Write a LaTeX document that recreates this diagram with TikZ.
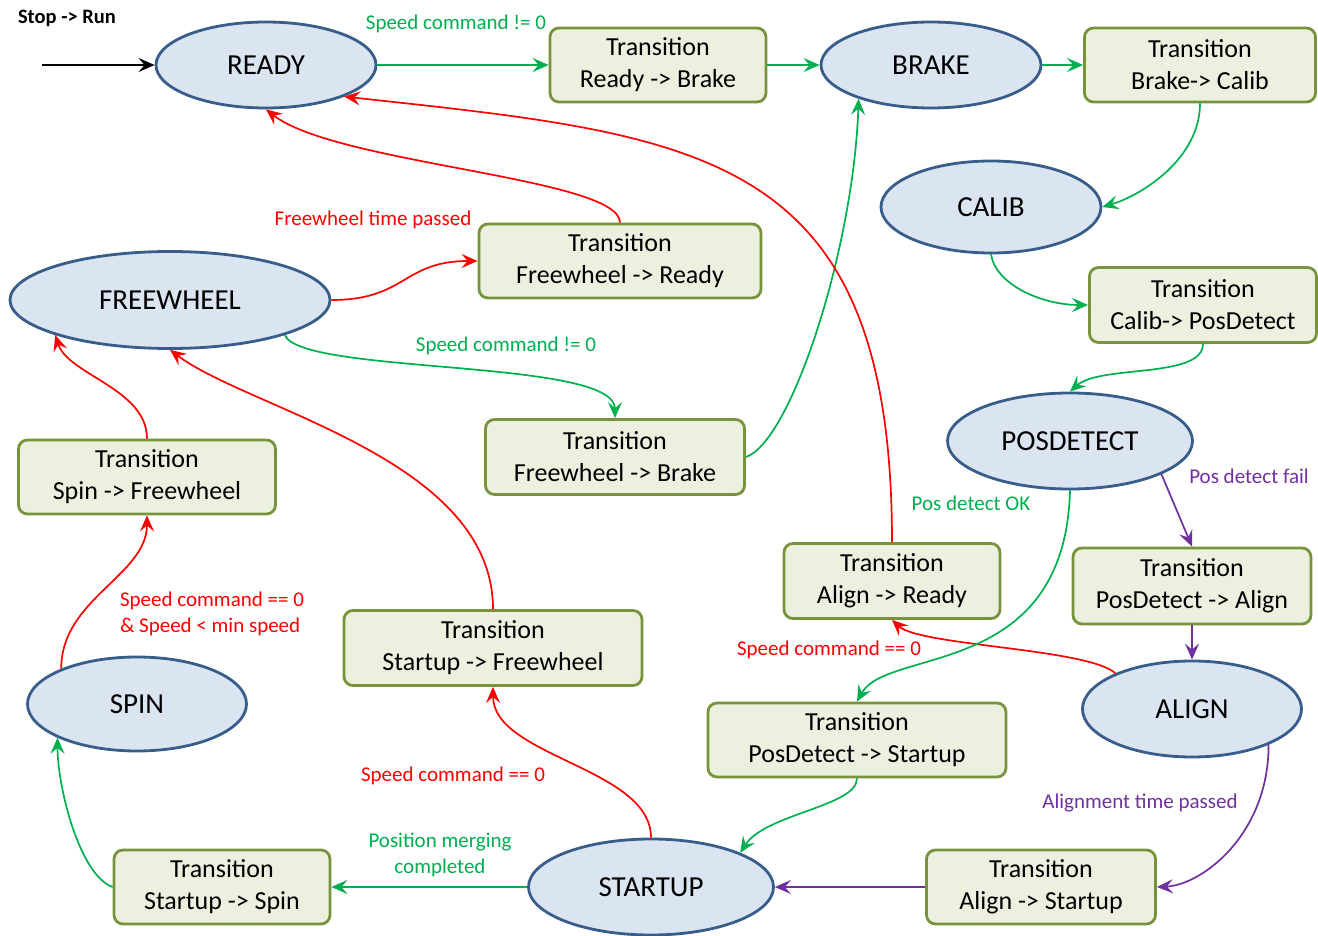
\documentclass[tikz,border=0pt]{standalone}
\usepackage{fontspec}
\setmainfont{Carlito}
\usetikzlibrary{arrows.meta,shapes.geometric}

\definecolor{stfill}{RGB}{219,229,241}
\definecolor{stdraw}{RGB}{56,93,138}
\definecolor{trfill}{RGB}{235,241,222}
\definecolor{trdraw}{RGB}{119,147,60}
\definecolor{gok}{RGB}{0,176,80}
\definecolor{rstop}{RGB}{255,0,0}
\definecolor{pfail}{RGB}{112,48,160}

\tikzset{
  state/.style={ellipse, draw=stdraw, fill=stfill, line width=2.8pt, inner sep=0pt,
    font=\fontsize{29}{34}\selectfont},
  trans/.style={rectangle, rounded corners=9pt, draw=trdraw, fill=trfill, line width=2.8pt,
    inner sep=0pt, align=center, font=\fontsize{26}{32}\selectfont},
  flow/.style={line width=1.7pt, -{Stealth[length=16pt,width=14pt,inset=6pt]}},
  kedge/.style={flow, draw=black},
  gedge/.style={flow, draw=gok},
  redge/.style={flow, draw=rstop},
  pedge/.style={flow, draw=pfail},
  lbl/.style={font=\fontsize{21}{26}\selectfont, inner sep=0pt}
}

\begin{document}
\begin{tikzpicture}[x=1pt, y=-1pt]
\useasboundingbox (0,0) rectangle (1318,936);
\fill[white] (0,0) rectangle (1318,936);

% states
\node[state, minimum width=220pt, minimum height=86pt] (ready) at (266,65) {READY};
\node[state, minimum width=220pt, minimum height=86pt] (brake) at (931,65) {BRAKE};
\node[state, minimum width=220pt, minimum height=92pt] (calib) at (991,207) {CALIB};
\node[state, minimum width=320pt, minimum height=97pt] (freewheel) at (170,300) {FREEWHEEL};
\node[state, minimum width=245pt, minimum height=96pt] (posdetect) at (1070,441) {POSDETECT};
\node[state, minimum width=219pt, minimum height=94pt] (spin) at (137,704) {SPIN};
\node[state, minimum width=219pt, minimum height=96pt] (align) at (1192,709) {ALIGN};
\node[state, minimum width=245pt, minimum height=96pt] (startup) at (651,887) {STARTUP};

% transitions
\node[trans, minimum width=216pt, minimum height=74pt] (trb) at (658,65) {Transition\\Ready -> Brake};
\node[trans, minimum width=231pt, minimum height=74pt] (tbc) at (1200,65) {Transition\\Brake-> Calib};
\node[trans, minimum width=282pt, minimum height=74pt] (tfr) at (620,261) {Transition\\Freewheel -> Ready};
\node[trans, minimum width=227pt, minimum height=75pt] (tcp) at (1203,305) {Transition\\Calib-> PosDetect};
\node[trans, minimum width=259pt, minimum height=75pt] (tfb) at (615,457) {Transition\\Freewheel -> Brake};
\node[trans, minimum width=257pt, minimum height=74pt] (tsf) at (147,477) {Transition\\Spin -> Freewheel};
\node[trans, minimum width=216pt, minimum height=75pt] (tar) at (892,581) {Transition\\Align -> Ready};
\node[trans, minimum width=238pt, minimum height=76pt] (tpa) at (1192,586) {Transition\\PosDetect -> Align};
\node[trans, minimum width=298pt, minimum height=75pt] (tsfw) at (493,648) {Transition\\Startup -> Freewheel};
\node[trans, minimum width=298pt, minimum height=74pt] (tps) at (857,740) {Transition\\PosDetect -> Startup};
\node[trans, minimum width=216pt, minimum height=74pt] (tss) at (222,887) {Transition\\Startup -> Spin};
\node[trans, minimum width=229pt, minimum height=74pt] (tas) at (1041,887) {Transition\\Align -> Startup};

% entry
\node[font=\fontsize{20.5}{24}\selectfont\bfseries, inner sep=0pt] (entrylbl) at (67,18) {Stop -> Run};
\coordinate (entry) at (42,65);
\draw[kedge] (entry) -- (ready.west);

% main line
\draw[gedge] (ready.east) -- (trb.west);
\draw[gedge] (trb.east) -- (brake.west);
\draw[gedge] (brake.east) -- (tbc.west);
\draw[gedge] (tbc.south) .. controls +(0,55) and +(40,-12) .. (calib.east);
\draw[gedge] (calib.south) .. controls +(5,31) and +(-45,0) .. (tcp.west);
\draw[gedge] (tcp.south) .. controls +(0,35) and +(30,-27) .. (posdetect.north);
\draw[pedge] (posdetect.-20) -- (tpa.north);
\draw[pedge] (tpa.south) -- (align.north);
\draw[pedge] (align.-25) .. controls +(0,90) and +(45,-2) .. (tas.east);
\draw[pedge] (tas.west) -- (startup.east);
\draw[gedge] (startup.west) -- (tss.east);
\draw[gedge] (tss.west) .. controls +(-33,-12) and +(0,50) .. (spin.-157);
\draw[redge] (spin.155) .. controls +(0,-70) and +(0,60) .. (tsf.south);
\draw[redge] (tsf.north) .. controls +(0,-50) and +(13,40) .. (freewheel.-163);
\draw[redge] (startup.north) .. controls +(0,-70) and +(0,70) .. (tsfw.south);
\draw[redge] (tsfw.north) .. controls +(0,-150) and +(80,60) .. (freewheel.south);
\draw[redge] (freewheel.east) .. controls +(75,0) and +(-75,0) .. (tfr.west);
\draw[redge] (tfr.north) .. controls +(0,-45) and +(70,55) .. (ready.south);
\draw[gedge] (freewheel.-17) .. controls +(17,40) and +(0,-60) .. (tfb.north);
\draw[gedge] (tfb.east) .. controls +(45,-15) and +(-5,150) .. (brake.-155);
\draw[redge] (tar.north) .. controls +(0,-393) and +(358,39) .. (ready.-22);
\draw[redge] (align.155) .. controls +(-28,-25) and +(28,26) .. (tar.south);
\draw[gedge] (posdetect.south) .. controls +(-5,190) and +(30,-55) .. (tps.north);
\draw[gedge] (tps.south) .. controls +(0,28) and +(25,-39) .. (startup.21);

% conditions
\node[lbl, text=gok] (l1) at (456,24) {Speed command != 0};
\node[lbl, text=rstop] (l2) at (373,220) {Freewheel time passed};
\node[lbl, text=gok] (l3) at (506,346) {Speed command != 0};
\node[lbl, text=gok] (l4) at (971,503) {Pos detect OK};
\node[lbl, text=pfail] (l5) at (1249,476) {Pos detect fail};
\node[lbl, text=rstop] (l6) at (829,650) {Speed command == 0};
\node[lbl, text=rstop, align=left] (l7) at (212,614) {Speed command == 0\\\& Speed < min speed};
\node[lbl, text=rstop] (l8) at (453,776) {Speed command == 0};
\node[lbl, text=gok, align=center] (l9) at (440,855) {Position merging\\completed};
\node[lbl, text=pfail] (l10) at (1140,803) {Alignment time passed};
\end{tikzpicture}
\end{document}
